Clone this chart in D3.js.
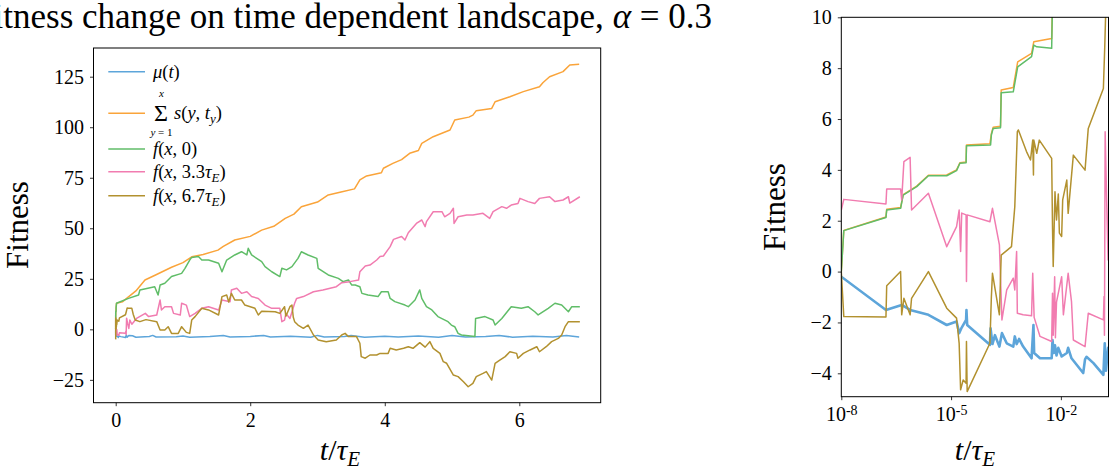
<!DOCTYPE html>
<html><head><meta charset="utf-8">
<script src="https://cdn.jsdelivr.net/npm/d3@7"></script>
<style>
body{margin:0;background:#fff}
svg{display:block}
text{font-family:"Liberation Serif","Times New Roman",serif;fill:#000}
</style></head>
<body><svg id="c" width="1109" height="470"></svg>
<script>
// ---------- data (t in units of tau_E, fitness) ----------
const seriesColors = ["#5DA5DA","#FAA43A","#60BD68","#F17CB0","#B2912F"];

const muData = [
 [1e-8,-0.2],[1.66e-7,-1.51],[4.47e-7,-1.31],[7.59e-7,-1.51],[2.4e-6,-1.70],[7.6e-6,-2.10],[1.41e-5,-1.96],
 [1.66e-5,-2.42],[1.95e-5,-2.2],[2.57e-5,-1.90],[2.63e-5,-1.51],[2.75e-5,-2.1],[1.15e-4,-2.88],[1.2e-4,-2.23],
 [1.35e-4,-2.85],[1.58e-4,-2.5],[2.09e-4,-2.95],[2.45e-4,-2.42],[3.31e-4,-2.82],[5.0e-4,-2.95],[5.5e-4,-2.55],
 [6.2e-4,-2.85],[7.2e-4,-2.65],[9.3e-4,-2.95],[1.58e-3,-3.41],[1.78e-3,-2.10],[1.86e-3,-3.2],[2.69e-3,-3.41],
 [5.6e-3,-3.41],[5.9e-3,-2.69],[6.4e-3,-3.2],[6.9e-3,-2.9],[7.6e-3,-3.3],[8.5e-3,-3.0],[1.05e-2,-3.34],
 [1.45e-2,-3.2],[1.58e-2,-3.0],[1.95e-2,-3.41],[4.07e-2,-3.99],[4.57e-2,-3.45],[5.0e-2,-3.35],[7.76e-2,-3.60],
 [0.145,-4.06],[0.158,-2.82],[0.17,-3.9],[0.195,-3.0],
 [0.25,-3.2],[0.3,-3.9],[0.5,-3.5],[0.55,-3.0],[0.6,-3.8],[0.9,-3.7],[1.0,-3.3],[1.1,-3.9],[1.4,-3.6],
 [1.6,-3.0],[1.7,-3.8],[2.0,-3.5],[2.2,-3.0],[2.3,-3.8],[2.6,-3.4],[2.9,-3.9],[3.0,-3.0],[3.1,-3.8],
 [3.4,-3.6],[3.5,-3.1],[3.7,-3.9],[4.0,-3.4],[4.2,-3.8],[4.5,-3.3],[4.8,-3.9],[5.0,-3.0],[5.2,-3.8],
 [5.5,-3.5],[5.7,-3.0],[5.9,-3.9],[6.2,-3.4],[6.5,-3.8],[6.7,-3.1],[6.89,-3.8]
];

const sumData = [
 [1e-8,0.0],[1.17e-8,1.62],[1.66e-7,2.15],[1.74e-7,2.45],[4.17e-7,2.52],[4.9e-7,3.03],[1.15e-6,3.36],
 [2.4e-6,3.79],[7.6e-6,3.80],[1.41e-5,4.0],[1.74e-5,4.28],[2.57e-5,4.31],[2.63e-5,4.98],[1.15e-4,5.03],
 [1.26e-4,5.42],[1.41e-4,5.68],[2.24e-4,5.72],[2.34e-4,7.14],[5.0e-4,7.24],[6.6e-4,8.25],[1.58e-3,8.58],
 [1.82e-3,9.04],[5.6e-3,9.17],[5.9e-3,10.6],[0.012,12.9],
 [0.1,13.6],[0.19,16.1],[0.3,19.0],[0.435,24.4],[0.6,27.0],[0.83,30.7],[1.0,33.0],[1.13,35.9],[1.3,37.0],
 [1.52,39.2],[1.6,41.0],[1.77,44.2],[2.0,46.0],[2.17,49.1],[2.35,51.0],[2.52,54.9],[2.65,57.0],[2.76,60.7],
 [3.0,63.0],[3.16,66.5],[3.35,68.0],[3.55,69.5],[3.63,73.9],[3.73,75.9],[3.95,77.5],[3.98,79.7],[4.12,82.1],
 [4.25,84.0],[4.37,87.1],[4.5,88.5],[4.55,92.0],[4.72,95.3],[4.97,98.6],[5.04,103.6],[5.25,105.0],[5.31,106.0],
 [5.36,108.2],[5.59,109.3],[5.64,112.6],[5.86,115.1],[6.06,117.6],[6.30,120.0],[6.35,122.0],[6.45,125.0],
 [6.65,127.5],[6.75,130.8],[6.89,131.1]
];

const f0Data = [
 [1e-8,0.0],[1.17e-8,1.61],[1.66e-7,2.13],[1.74e-7,2.42],[4.17e-7,2.49],[4.9e-7,3.01],[1.15e-6,3.34],
 [2.4e-6,3.77],[7.6e-6,3.77],[1.41e-5,3.97],[1.74e-5,4.26],[2.57e-5,4.28],[2.63e-5,4.95],[1.2e-4,4.98],
 [1.26e-4,5.37],[1.41e-4,5.63],[2.24e-4,5.66],[2.34e-4,7.03],[5.0e-4,7.07],[6.6e-4,8.05],[1.58e-3,8.45],
 [1.82e-3,8.91],[2.19e-3,8.84],[5.6e-3,8.78],[5.9e-3,10.6],[0.012,12.9],
 [0.19,15.3],[0.34,17.0],[0.36,19.5],[0.58,21.1],[0.63,17.0],[0.66,21.9],[0.73,22.8],[0.83,26.1],[0.98,27.7],
 [1.03,30.2],[1.10,34.3],[1.13,35.6],[1.23,36.0],[1.28,34.3],[1.38,34.3],[1.53,32.7],[1.58,28.5],[1.65,34.3],
 [1.77,36.8],[1.87,38.4],[1.95,36.8],[1.97,40.1],[2.02,36.8],[2.17,33.5],[2.22,31.0],[2.32,28.5],[2.44,26.1],
 [2.47,30.2],[2.54,29.4],[2.62,31.0],[2.71,35.1],[2.76,38.4],[2.86,36.8],[2.99,35.1],[3.01,30.2],[3.16,26.9],
 [3.31,25.2],[3.38,23.6],[3.46,24.4],[3.51,21.9],[3.56,21.9],[3.63,21.1],[3.66,17.8],[3.75,17.0],[3.90,16.2],
 [3.95,18.6],[4.05,18.6],[4.08,15.3],[4.15,13.7],[4.30,12.0],[4.35,11.2],[4.45,14.5],[4.52,19.5],[4.55,15.3],
 [4.62,11.2],[4.70,9.6],[4.79,6.3],[4.94,3.8],[4.99,2.1],[5.04,1.3],[5.09,-2.0],[5.14,-2.8],[5.34,-3.6],
 [5.35,5.4],[5.49,6.3],[5.61,4.6],[5.64,2.1],[5.74,5.4],[5.88,11.2],[6.03,10.4],[6.13,11.2],[6.23,8.7],
 [6.28,7.1],[6.43,10.4],[6.53,12.9],[6.63,12.0],[6.73,8.7],[6.78,11.2],[6.90,11.2]
];

const f33Data = [
 [1e-8,2.42],[1.17e-8,2.84],[1.66e-7,2.66],[1.74e-7,3.25],[4.17e-7,3.25],[4.47e-7,2.82],[5.13e-7,4.32],
 [7.59e-7,4.49],[8.32e-7,2.42],[2.4e-6,3.08],[7.6e-6,0.98],[1.41e-5,1.77],[1.66e-5,2.42],[1.82e-5,0.79],
 [1.95e-5,2.3],[2.57e-5,2.23],[2.63e-5,-0.39],[2.75e-5,2.23],[1.15e-4,1.96],[1.35e-4,2.49],[2.09e-4,1.05],
 [2.45e-4,-1.90],[3.31e-4,-0.72],[5.0e-4,-0.26],[5.5e-4,-0.72],[6.17e-4,0.79],[6.46e-4,-1.64],[9.3e-4,-1.70],
 [1.58e-3,-1.74],[1.7e-3,-0.07],[1.86e-3,-1.8],[2.69e-3,-2.55],[5.6e-3,-2.75],[5.9e-3,-0.85],[6.17e-3,-2.5],
 [6.76e-3,-0.20],[7.08e-3,-2.6],[7.59e-3,-1.2],[1.05e-2,-0.20],[1.17e-2,-1.70],[1.58e-2,-0.07],[1.95e-2,-1.18],
 [2.19e-2,-2.69],[4.57e-2,-2.95],[5.6e-2,-1.64],[0.145,-1.90],[0.151,-0.98],[0.155,-2.5],[0.162,5.50],
 [0.178,2.82],[0.195,0.46],
 [0.21,4.6],[0.24,2.5],[0.31,5.4],[0.44,7.9],[0.49,6.3],[0.61,7.1],[0.66,14.5],[0.68,9.6],[0.73,11.2],
 [0.83,11.2],[0.86,7.9],[0.96,7.1],[0.98,12.9],[1.05,12.0],[1.10,6.3],[1.18,7.9],[1.28,10.4],[1.38,11.2],
 [1.53,9.6],[1.58,14.5],[1.70,13.7],[1.72,19.5],[1.80,20.3],[1.87,17.8],[1.95,18.6],[2.02,16.2],[2.12,15.3],
 [2.22,12.0],[2.32,10.4],[2.44,10.4],[2.47,3.8],[2.51,4.6],[2.53,7.9],[2.59,5.4],[2.66,12.9],[2.69,15.3],
 [2.79,16.2],[2.94,18.6],[3.08,19.5],[3.28,21.1],[3.36,23.1],[3.48,23.6],[3.61,24.4],[3.63,28.5],[3.71,31.3],
 [3.78,31.8],[3.88,34.3],[3.93,36.0],[3.98,36.3],[4.08,40.9],[4.13,44.5],[4.25,45.9],[4.30,44.2],[4.35,47.8],
 [4.47,52.4],[4.55,54.1],[4.60,50.8],[4.62,53.3],[4.72,58.2],[4.85,58.2],[4.89,55.7],[4.97,57.4],[5.02,59.9],
 [5.03,52.4],[5.09,55.7],[5.22,56.6],[5.31,56.6],[5.46,57.4],[5.56,54.9],[5.61,58.2],[5.74,60.7],[5.81,59.9],
 [5.88,61.5],[5.98,62.3],[6.01,64.8],[6.13,63.2],[6.23,62.3],[6.30,64.8],[6.45,65.6],[6.53,63.2],[6.65,64.0],
 [6.73,65.6],[6.75,62.5],[6.90,65.6]
];

const f67Data = [
 [1e-8,0.0],[1.17e-8,-1.77],[1.66e-7,-1.79],[1.74e-7,-0.56],[4.17e-7,0.0],[4.47e-7,-1.70],[5.13e-7,-1.05],
 [7.59e-7,-1.70],[8.32e-7,-1.05],[2.4e-6,0.0],[7.6e-6,-1.44],[1.41e-5,-1.83],[1.66e-5,-2.82],[1.82e-5,-4.65],
 [2.14e-5,-4.26],[2.57e-5,-4.39],[2.63e-5,-2.75],[2.75e-5,-4.72],[1.15e-4,-2.82],[1.26e-4,-1.0],[1.35e-4,-0.07],
 [2.09e-4,-1.70],[2.34e-4,0.65],[4.47e-4,0.98],[5.5e-4,2.55],[6.46e-4,5.50],[6.9e-4,5.57],[1.15e-3,4.72],
 [1.48e-3,4.39],[1.7e-3,5.17],[1.78e-3,3.80],[1.82e-3,5.17],[2.19e-3,4.65],[2.57e-3,5.17],[5.6e-3,4.45],
 [5.9e-3,1.77],[6.17e-3,0.20],[6.9e-3,3.14],[7.59e-3,2.03],[8.5e-3,3.05],[9.1e-3,1.51],[1.05e-2,1.38],
 [1.12e-2,2.82],[1.45e-2,3.60],[1.58e-2,2.29],[2.19e-2,4.58],[4.57e-2,3.99],[5.6e-2,5.63],[0.145,7.20],
 [0.158,8.84],[0.17,10.5],
 [0.19,10.4],[0.24,10.4],[0.26,7.5],[0.29,4.6],[0.36,3.8],[0.45,4.8],[0.61,3.8],[0.66,-0.3],[0.73,-0.3],
 [0.78,1.3],[0.83,-2.0],[0.93,-2.0],[0.98,1.3],[1.05,-1.5],[1.10,-2.0],[1.13,4.6],[1.18,6.3],[1.28,10.4],
 [1.38,9.6],[1.53,7.1],[1.58,16.2],[1.65,17.0],[1.68,13.5],[1.72,17.8],[1.77,14.5],[1.87,14.5],[1.92,12.0],
 [2.07,10.4],[2.12,7.1],[2.17,9.0],[2.37,8.7],[2.44,7.9],[2.51,11.2],[2.53,6.5],[2.59,11.2],[2.62,12.0],
 [2.64,6.0],[2.66,3.8],[2.71,2.1],[2.79,0.5],[2.86,2.1],[2.94,-2.8],[3.01,-5.3],[3.13,-6.1],[3.28,-5.3],
 [3.36,-2.8],[3.41,-2.0],[3.46,-3.6],[3.58,-3.6],[3.63,-6.9],[3.65,-13.5],[3.71,-14.3],[3.78,-12.7],
 [3.88,-12.7],[3.93,-11.9],[4.05,-11.9],[4.08,-9.4],[4.17,-10.2],[4.28,-9.4],[4.35,-8.6],[4.42,-9.4],
 [4.52,-6.6],[4.60,-8.8],[4.67,-6.1],[4.72,-9.4],[4.82,-11.9],[4.87,-16.0],[4.92,-16.8],[5.02,-22.6],
 [5.09,-23.4],[5.17,-25.9],[5.24,-28.4],[5.31,-26.7],[5.36,-23.4],[5.46,-21.8],[5.51,-20.9],[5.59,-25.1],
 [5.64,-16.8],[5.71,-15.2],[5.79,-13.5],[5.86,-11.1],[5.96,-11.9],[5.98,-14.3],[6.06,-11.9],[6.16,-10.2],
 [6.26,-8.6],[6.30,-11.1],[6.40,-8.6],[6.48,-6.1],[6.58,-4.5],[6.63,-2.8],[6.68,1.3],[6.73,3.8],[6.90,3.8]
];

const leftXTicks = [0,2,4,6];
const leftYTicks = [-25,0,25,50,75,100,125];
const rightXTicks = [1e-8,1e-5,1e-2];
const rightYTicks = [-4,-2,0,2,4,6,8,10];

const allSeries = [muData,sumData,f0Data,f33Data,f67Data];

// ---------- drawing ----------
const FONT = '"Liberation Serif","Times New Roman",serif';
const svg = d3.select("#c");
const L = {x0:93.5,x1:600.7,y0:48,y1:402.7};
const R = {x0:841.3,x1:1108.5,y0:17.3,y1:396.7};

const xL = d3.scaleLinear().domain([-0.33,7.21]).range([L.x0,L.x1]);
const yL = d3.scaleLinear().domain([-36.3,139.2]).range([L.y1,L.y0]);
const xR = d3.scaleLog().domain([1e-8,0.2]).range([R.x0,R.x1]);
const yR = d3.scaleLinear().domain([-4.92,10]).range([R.y1,R.y0]);

// title
const title = svg.append("text").attr("x",712).attr("y",28).attr("text-anchor","end").style("font-size","35px");
title.append("tspan").text("Fitness change on time dependent landscape, ");
title.append("tspan").style("font-style","italic").text("α");
title.append("tspan").text(" = 0.3");

function styleAxis(g){
  g.attr("font-family",null).attr("font-size",null);
  g.selectAll(".domain").remove();
  g.selectAll("line").attr("stroke","#000").attr("stroke-width",0.8);
  g.selectAll("text").style("font-size","20px");
}

const defs = svg.append("defs");
defs.append("clipPath").attr("id","clipR").append("rect")
  .attr("x",R.x0).attr("y",R.y0).attr("width",R.x1-R.x0).attr("height",R.y1-R.y0);

// left axes
const gLx = svg.append("g").attr("transform",`translate(0,${L.y1})`)
  .call(d3.axisBottom(xL).tickValues(leftXTicks).tickSize(3.5).tickPadding(7).tickFormat(d3.format("d")));
styleAxis(gLx);
const gLy = svg.append("g").attr("transform",`translate(${L.x0},0)`)
  .call(d3.axisLeft(yL).tickValues(leftYTicks).tickSize(3.5).tickPadding(6).tickFormat(d=> d<0? "−"+Math.abs(d): d));
styleAxis(gLy);

const lineL = d3.line().x(d=>xL(d[0])).y(d=>yL(d[1]));
const gLines = svg.append("g");
allSeries.forEach((s,i)=>{
  gLines.append("path").datum(s).attr("d",lineL).attr("fill","none")
   .attr("stroke",seriesColors[i]).attr("stroke-width",1.5).attr("stroke-linejoin","round");
});
svg.append("rect").attr("x",L.x0).attr("y",L.y0).attr("width",L.x1-L.x0).attr("height",L.y1-L.y0)
  .attr("fill","none").attr("stroke","#000").attr("stroke-width",1);

// left labels
svg.append("text").attr("transform","translate(28,225) rotate(-90)").attr("text-anchor","middle")
  .style("font-size","31px").text("Fitness");
function tauLabel(x,y){
  const t = svg.append("text").attr("x",x).attr("y",y).attr("text-anchor","middle").style("font-size","30px");
  t.append("tspan").style("font-style","italic").text("t");
  t.append("tspan").text("/");
  t.append("tspan").style("font-style","italic").text("τ");
  t.append("tspan").style("font-style","italic").style("font-size","21px").attr("dy",6).text("E");
}
tauLabel(340,460);

// legend
const lg = svg.append("g");
const legRows = [71.7,113.3,149,171.7,195.7];
legRows.forEach((yc,i)=>{
  lg.append("line").attr("x1",108.3).attr("x2",145).attr("y1",yc).attr("y2",yc)
    .attr("stroke",seriesColors[i]).attr("stroke-width",1.5);
});
function mathRow(y, parts){
  const t = lg.append("text").attr("x",153).attr("y",y).style("font-size","18.5px");
  parts.forEach(p=>{
    const s = t.append("tspan").text(p[0]);
    if(p[1]==="i") s.style("font-style","italic");
    if(p[2]) s.style("font-size",p[2]);
    if(p[3]!==undefined) s.attr("dy",p[3]);
  });
  return t;
}
mathRow(77.5,[["μ","i"],["("],["t","i"],[")"]]);
// sum row
lg.append("text").attr("x",154).attr("y",121).style("font-size","24px").text("Σ");
lg.append("text").attr("x",161.5).attr("y",97).attr("text-anchor","middle").style("font-size","11px").style("font-style","italic").text("x");
const sub = lg.append("text").attr("x",161.5).attr("y",136).attr("text-anchor","middle").style("font-size","11px");
sub.append("tspan").style("font-style","italic").text("y");
sub.append("tspan").text(" = 1");
const sr = lg.append("text").attr("x",174).attr("y",119).style("font-size","18.5px");
sr.append("tspan").style("font-style","italic").text("s");
sr.append("tspan").text("(");
sr.append("tspan").style("font-style","italic").text("y");
sr.append("tspan").text(", ");
sr.append("tspan").style("font-style","italic").text("t");
sr.append("tspan").style("font-style","italic").style("font-size","13px").attr("dy",4).text("y");
sr.append("tspan").attr("dy",-4).text(")");
mathRow(155,[["f","i"],["("],["x","i"],[", 0)"]]);
mathRow(177.5,[["f","i"],["("],["x","i"],[", 3.3"],["τ","i"],["E","i","13px",4],[")",null,null,-4]]);
mathRow(201.5,[["f","i"],["("],["x","i"],[", 6.7"],["τ","i"],["E","i","13px",4],[")",null,null,-4]]);

// right axes
const gRx = svg.append("g").attr("transform",`translate(0,${R.y1})`)
  .call(d3.axisBottom(xR).tickValues(rightXTicks).tickSize(3.5).tickPadding(7).tickFormat(()=>""));
styleAxis(gRx);
gRx.selectAll(".tick text").each(function(d){
  const el = d3.select(this);
  el.text(null);
  el.append("tspan").text("10");
  el.append("tspan").attr("dy","-0.45em").style("font-size","14px").text("-" + Math.round(-Math.log10(d)));
});
const gRy = svg.append("g").attr("transform",`translate(${R.x0},0)`)
  .call(d3.axisLeft(yR).tickValues(rightYTicks).tickSize(3.5).tickPadding(6).tickFormat(d=> d<0? "−"+Math.abs(d): d));
styleAxis(gRy);

const lineR = d3.line().x(d=>xR(d[0])).y(d=>yR(d[1]));
const gR = svg.append("g").attr("clip-path","url(#clipR)");
allSeries.forEach((s,i)=>{
  gR.append("path").datum(s).attr("d",lineR).attr("fill","none")
   .attr("stroke",seriesColors[i]).attr("stroke-width",i===0?2.6:1.5).attr("stroke-linejoin","round");
});
svg.append("rect").attr("x",R.x0).attr("y",R.y0).attr("width",R.x1-R.x0).attr("height",R.y1-R.y0)
  .attr("fill","none").attr("stroke","#000").attr("stroke-width",1);

svg.append("text").attr("transform","translate(785,207) rotate(-90)").attr("text-anchor","middle")
  .style("font-size","31px").text("Fitness");
tauLabel(975,460);

svg.selectAll("text").style("font-family",FONT).style("fill","#000");
</script></body></html>
